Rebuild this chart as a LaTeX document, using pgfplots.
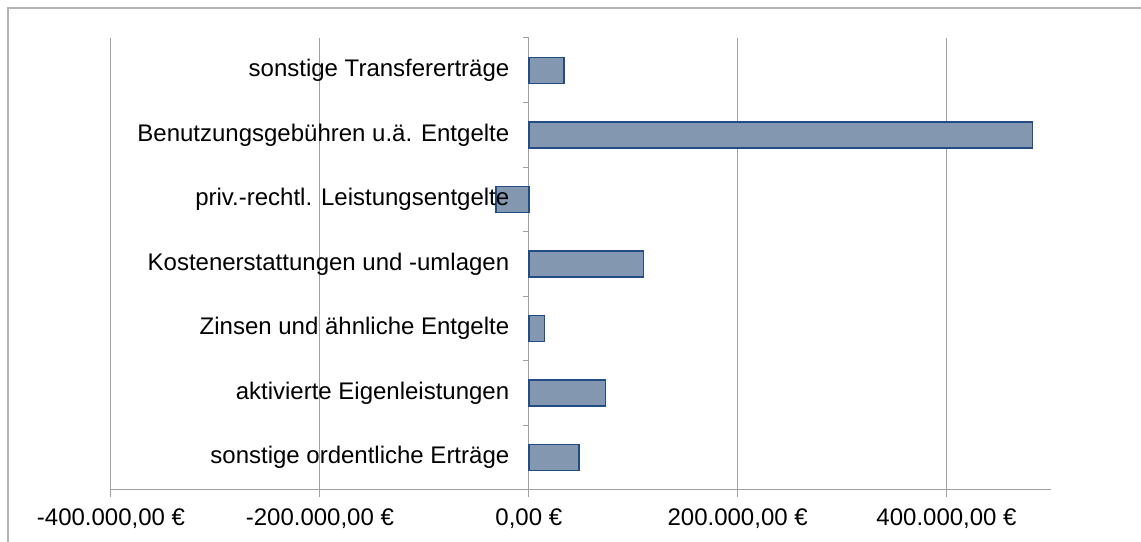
\documentclass[border=0pt]{standalone}
\usepackage{pgfplots}
\pgfplotsset{compat=1.18}
\usepackage{fontspec}
\setmainfont{Liberation Sans}
\definecolor{barfill}{RGB}{132,151,176}
\definecolor{baredge}{RGB}{36,76,132}
\definecolor{gridc}{RGB}{160,160,160}
\begin{document}
\begin{tikzpicture}
\useasboundingbox (0,0) rectangle (1141bp,542bp);
\fill[white] (0,0) rectangle (1141bp,542bp);
\draw[gridc!80, line width=1.2bp] (8bp,-5bp) -- (8bp,534bp) -- (1150bp,534bp);
\begin{axis}[
  at={(111bp,52bp)}, anchor=south west,
  scale only axis, width=940bp, height=452bp,
  xmin=-400000, xmax=500000,
  ymin=-0.5, ymax=6.5,
  axis x line=bottom, axis y line=center,
  axis line style={-, draw=gridc, line width=1bp},
  hide obscured x ticks=false, hide obscured y ticks=false,
  scaled x ticks=false,
  xbar, bar width=26bp,
  xtick={-400000,-200000,0,200000,400000},
  xticklabels={{-400.000,00 €},{-200.000,00 €},{0,00 €},{200.000,00 €},{400.000,00 €}},
  xmajorgrids, major grid style={draw=gridc, line width=1bp},
  ytick={0,1,2,3,4,5,6},
  yticklabels={sonstige ordentliche Erträge, aktivierte Eigenleistungen, Zinsen und ähnliche Entgelte, Kostenerstattungen und -umlagen, {}, Benutzungsgebühren u.ä. Entgelte, sonstige Transfererträge},
  extra y ticks={-0.5,0.5,1.5,2.5,3.5,4.5,5.5,6.5},
  extra y tick labels={},
  extra y tick style={ytick style={draw=gridc, line width=1bp}, major tick length=6bp},
  tick align=outside,
  major tick length=7bp,
  ytick style={draw=none},
  xtick style={draw=gridc, line width=1bp},
  tick label style={font=\fontsize{24bp}{28bp}\selectfont},
  /pgf/number format/assume math mode=true,
  yticklabel style={anchor=east, xshift=-9bp},
  xticklabel style={yshift=-8bp},
  clip=false,
]
\addplot[fill=barfill, draw=baredge, line width=1.5bp] coordinates {
  (47900,0) (73500,1) (15000,2) (109900,3) (-31200,4) (482500,5) (33900,6)
};
\node[anchor=east, xshift=-16bp, font=\fontsize{24bp}{28bp}\selectfont] at (axis cs:0,4) {priv.-rechtl. Leistungsentgelte};
\end{axis}
\end{tikzpicture}
\end{document}
